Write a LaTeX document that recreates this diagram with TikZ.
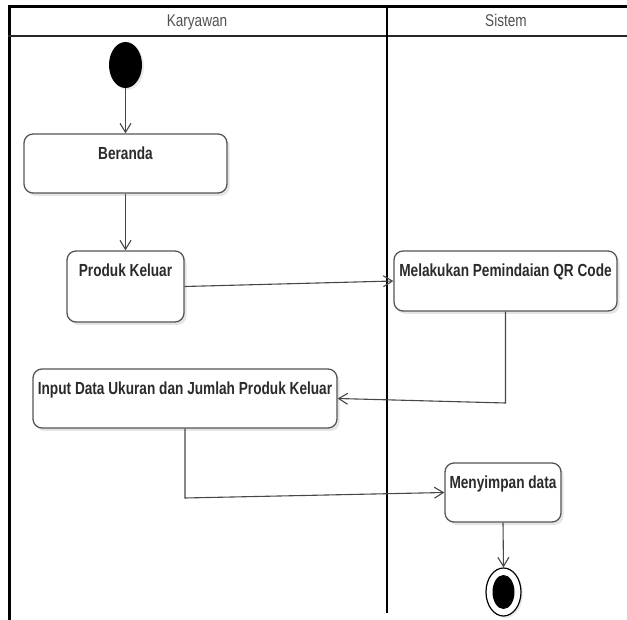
\documentclass[tikz,border=0pt]{standalone}
\usepackage{fontspec}
\usetikzlibrary{arrows.meta,shadows,shapes.geometric}
\newfontfamily\actfont{Liberation Sans}[FakeStretch=0.78]
\newfontfamily\lanefont{Liberation Sans}[FakeStretch=0.8]
\definecolor{edge}{HTML}{474747}
\definecolor{boxline}{HTML}{555555}
\definecolor{ink}{HTML}{2B2B2B}
\definecolor{lanetext}{HTML}{505050}
\begin{document}
\begin{tikzpicture}[x=1pt,y=-1pt,
  act/.style 2 args={draw=boxline, line width=1.3pt, fill=white, rounded corners=9pt,
    inner sep=0pt, minimum width=#1, text height=26pt, text depth=#2,
    font=\actfont\bfseries\fontsize{17.5}{20}\selectfont, text=ink,
    drop shadow={shadow xshift=2.5pt, shadow yshift=-3pt, fill=black, opacity=0.10}},
  lanehead/.style={anchor=base, inner sep=0pt, text=lanetext,
    font=\lanefont\fontsize{17}{20}\selectfont},
  startdot/.style={ellipse, fill=black, inner sep=0pt, minimum width=33pt, minimum height=46pt,
    drop shadow={shadow xshift=2pt, shadow yshift=-2pt, fill=black, opacity=0.08}},
  endring/.style={ellipse, draw=black, line width=1.2pt, fill=white, inner sep=0pt,
    minimum width=35pt, minimum height=48pt,
    drop shadow={shadow xshift=2pt, shadow yshift=-2pt, fill=black, opacity=0.08}},
  enddot/.style={ellipse, fill=black, inner sep=0pt, minimum width=22pt, minimum height=34pt},
  flow/.style={draw=edge, line width=1.1pt,
    -{Straight Barb[length=9pt,width=11pt,line width=1.1pt]}},
  frame/.style={line width=3pt, black},
  split/.style={line width=2pt, black}
]
\useasboundingbox (0,0) rectangle (627,620);

% swimlane frame
\draw[frame] (8,6.5) -- (627,6.5);
\draw[frame] (9.5,5) -- (9.5,620);
\draw[line width=2pt, black!85] (8,36) -- (627,36);
\draw[split] (386.5,6) -- (386.5,613);

% lane titles
\node[lanehead] (laneA) at (197,27) {Karyawan};
\node[lanehead] (laneB) at (506,27) {Sistem};

% activities
\node[startdot] (start) at (125.5,65) {};
\node[act={203pt}{33pt}] (beranda) at (125.5,163.5) {Beranda};
\node[act={117pt}{45pt}] (produk) at (125.5,286.5) {Produk Keluar};
\node[act={223pt}{34pt}] (scan) at (505.5,281) {Melakukan Pemindaian QR Code};
\node[act={304pt}{33pt}] (input) at (185,398.5) {Input Data Ukuran dan Jumlah Produk Keluar};
\node[act={116pt}{33pt}] (save) at (503,492.5) {Menyimpan data};
\node[endring] (final) at (503.5,592) {};
\node[enddot] (finaldot) at (503.5,592) {};

% bend points
\coordinate (c1) at (505.5,403);
\coordinate (c2) at (185,498);

% control flow
\draw[flow] (start) -- (beranda);
\draw[flow] (beranda) -- (produk);
\draw[flow] (produk.east) -- (scan.west);
\draw[flow] (scan.south) -- (c1) -- (input.east);
\draw[flow] (input.south) -- (c2) -- (save.west);
\draw[flow] (save.south) -- (final.north);
\end{tikzpicture}
\end{document}
